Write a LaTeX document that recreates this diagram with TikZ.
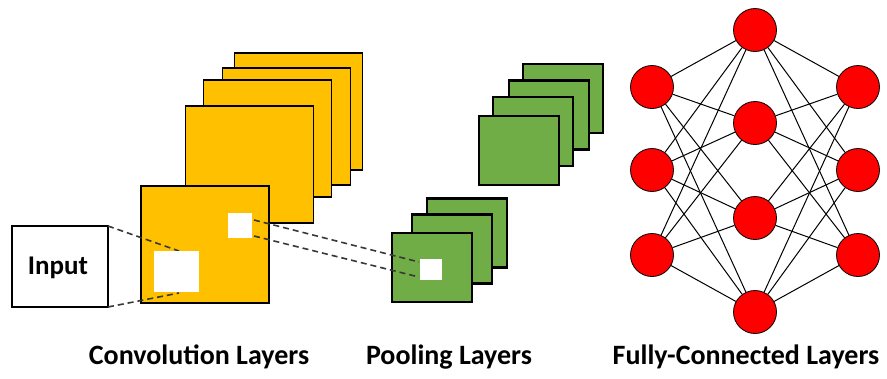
\documentclass[tikz,border=0pt]{standalone}
\usepackage{fontspec}
\setmainfont{Carlito}
\definecolor{convY}{HTML}{FFC000}
\definecolor{poolG}{HTML}{70AD47}
\definecolor{neuR}{HTML}{FF0000}
\definecolor{dashC}{HTML}{383838}
\begin{document}
\begin{tikzpicture}[x=1pt,y=-1pt,
  conv/.style={draw=black,line width=1.5pt,fill=convY,minimum width=128pt,minimum height=117pt,inner sep=0,outer sep=0},
  pool/.style={draw=black,line width=2.4pt,fill=poolG,minimum width=80pt,minimum height=69pt,inner sep=0,outer sep=0},
  hole/.style={fill=white,draw=none,inner sep=0,outer sep=0},
  neuron/.style={circle,draw=black,line width=0.8pt,fill=neuR,minimum size=43pt,inner sep=0},
  edge/.style={draw=black,line width=1pt},
  dline/.style={draw=dashC,line width=1.6pt,dash pattern=on 6pt off 4pt},
  lbl/.style={font=\bfseries\fontsize{28}{30}\selectfont,inner sep=0},
  inbox/.style={draw=black,line width=1.3pt,fill=white,minimum width=96pt,minimum height=81pt,inner sep=0,outer sep=0}
]
\useasboundingbox (0,0) rectangle (887,378);
% convolution stack
\node[conv] (ca) at (298.5,111.5) {};
\node[conv] (cb) at (286.5,126.5) {};
\node[conv] (cc) at (267.5,138.5) {};
\node[conv] (cd) at (249.5,164.5) {};
\node[conv] (ce) at (205,244.5) {};
% input
\node[inbox] (in) at (60,266.5) {};
\node[font=\bfseries\fontsize{27}{29}\selectfont,inner sep=0] (intext) at (58,268) {Input};
% pooling upper stack
\node[pool] (pa) at (563,98.5) {};
\node[pool] (pb) at (549,115) {};
\node[pool] (pc) at (533,131.5) {};
\node[pool] (pd) at (519,150.5) {};
% pooling lower stack
\node[pool] (qa) at (467,233) {};
\node[pool] (qb) at (452,249) {};
\node[pool] (qc) at (432,267.5) {};
% dashed connectors
\coordinate (bigA) at (179,251);
\coordinate (bigB) at (179,293);
\coordinate (smA) at (254,220);
\coordinate (smB) at (254,236);
\coordinate (poA) at (419,262);
\coordinate (poB) at (419,277);
\draw[dline] (in.north east) -- (bigA);
\draw[dline] (in.south east) -- (bigB);
\draw[dline] (smA) -- (poA);
\draw[dline] (smB) -- (poB);
% white windows
\node[hole,minimum width=45pt,minimum height=41pt] (wbig) at (176.5,271.5) {};
\node[hole,minimum width=24pt,minimum height=25pt] (wsm) at (240,225.5) {};
\node[hole,minimum width=22pt,minimum height=21pt] (wpo) at (431,269.5) {};
% fully connected
\node[neuron] (l1) at (652,87) {};
\node[neuron] (l2) at (652,170) {};
\node[neuron] (l3) at (652,255) {};
\node[neuron] (m1) at (755,30) {};
\node[neuron] (m2) at (755,123) {};
\node[neuron] (m3) at (755,218) {};
\node[neuron] (m4) at (755,312) {};
\node[neuron] (r1) at (858,87) {};
\node[neuron] (r2) at (858,170) {};
\node[neuron] (r3) at (858,255) {};
\foreach \a in {l1,l2,l3}{\foreach \b in {m1,m2,m3,m4}{\draw[edge] (\a) -- (\b);}}
\foreach \a in {m1,m2,m3,m4}{\foreach \b in {r1,r2,r3}{\draw[edge] (\a) -- (\b);}}
% labels
\node[lbl] (t1) at (199,357) {Convolution Layers};
\node[lbl] (t2) at (449,357) {Pooling Layers};
\node[lbl] (t3) at (746,357) {Fully-Connected Layers};
\end{tikzpicture}
\end{document}
